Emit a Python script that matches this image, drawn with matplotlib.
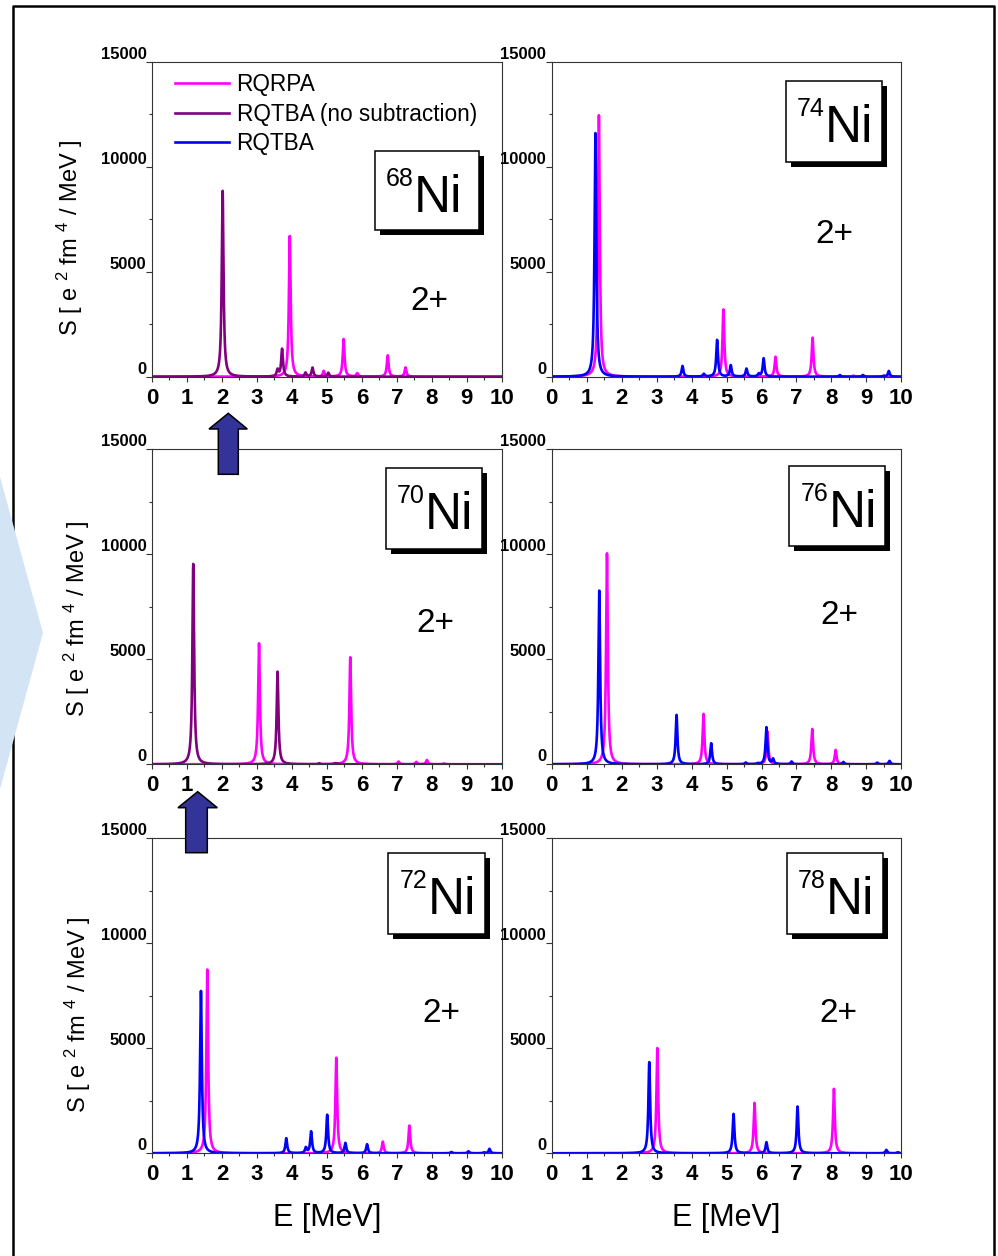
import numpy as np
import matplotlib
matplotlib.use('Agg')
import matplotlib.pyplot as plt
from matplotlib.patches import Rectangle, Polygon
from matplotlib.lines import Line2D
from matplotlib.ticker import MultipleLocator

plt.rcParams['font.family'] = ['Liberation Sans', 'DejaVu Sans']
plt.rcParams['mathtext.fontset'] = 'custom'
plt.rcParams['mathtext.rm'] = 'Liberation Sans'
plt.rcParams['mathtext.it'] = 'Liberation Sans:italic'
plt.rcParams['mathtext.bf'] = 'Liberation Sans:bold'

# ---------------- data (peak energies in MeV, peak strengths) ----------------
series_names = ['RQRPA', 'RQTBA (no subtraction)', 'RQTBA']
series_colors = ['#ff00ff', '#800080', '#0000ff']

ni68_rqrpa_E = [3.94, 4.91, 5.48, 5.87, 6.74, 7.25]
ni68_rqrpa_S = [6700, 270, 1790, 160, 1016, 440]
ni68_nosub_E = [2.02, 3.59, 3.72, 4.39, 4.59, 5.04]
ni68_nosub_S = [8850, 320, 1320, 190, 430, 190]

ni70_rqrpa_E = [3.06, 5.67, 7.05, 7.56, 7.86, 8.35]
ni70_rqrpa_S = [5760, 5095, 130, 110, 200, 40]
ni70_nosub_E = [1.18, 3.59, 4.78, 5.23, 5.30]
ni70_nosub_S = [9540, 4410, 50, 50, 40]

ni72_rqrpa_E = [1.58, 5.27, 6.60, 7.36]
ni72_rqrpa_S = [8750, 4550, 555, 1320]
ni72_rqtba_E = [1.40, 3.84, 4.40, 4.55, 5.01, 5.53, 6.15, 8.56, 9.05, 9.50, 9.65]
ni72_rqtba_S = [7730, 715, 255, 1030, 1830, 490, 430, 60, 95, 40, 210]

ni74_rqrpa_E = [1.35, 4.91, 6.40, 7.46, 8.63]
ni74_rqrpa_S = [12450, 3200, 950, 1860, 50]
ni74_rqtba_E = [1.25, 3.74, 4.35, 4.73, 5.12, 5.57, 5.92, 6.06, 8.24, 8.90, 9.50, 9.64]
ni74_rqtba_S = [11600, 510, 130, 1750, 540, 380, 130, 870, 80, 80, 40, 270]

ni76_rqrpa_E = [1.58, 4.34, 6.17, 7.45, 8.12]
ni76_rqrpa_S = [10045, 2400, 1555, 1680, 680]
ni76_rqtba_E = [1.36, 3.57, 4.56, 5.55, 5.90, 6.14, 6.33, 6.86, 8.34, 9.31, 9.66]
ni76_rqtba_S = [8270, 2350, 1000, 80, 40, 1760, 240, 130, 110, 80, 160]

ni78_rqrpa_E = [3.02, 5.80, 8.07]
ni78_rqrpa_S = [5010, 2400, 3070]
ni78_rqtba_E = [2.79, 5.20, 6.14, 7.03, 9.57, 9.90]
ni78_rqtba_S = [4340, 1876, 525, 2226, 160, 50]

mass_numbers = ['68', '74', '70', '76', '72', '78']   # panels, row-major
multipolarity = '2+'
x_ticks = list(range(0, 11))
y_ticks = [0, 5000, 10000, 15000]
smearing = 0.03  # MeV (Lorentzian half width)

panel_series = {
    '68': [(0, ni68_rqrpa_E, ni68_rqrpa_S), (1, ni68_nosub_E, ni68_nosub_S)],
    '70': [(0, ni70_rqrpa_E, ni70_rqrpa_S), (1, ni70_nosub_E, ni70_nosub_S)],
    '72': [(0, ni72_rqrpa_E, ni72_rqrpa_S), (2, ni72_rqtba_E, ni72_rqtba_S)],
    '74': [(0, ni74_rqrpa_E, ni74_rqrpa_S), (2, ni74_rqtba_E, ni74_rqtba_S)],
    '76': [(0, ni76_rqrpa_E, ni76_rqrpa_S), (2, ni76_rqtba_E, ni76_rqtba_S)],
    '78': [(0, ni78_rqrpa_E, ni78_rqrpa_S), (2, ni78_rqtba_E, ni78_rqtba_S)],
}

# ---------------- layout (pixels) ----------------
W, H = 998, 1256
fig = plt.figure(figsize=(W / 100, H / 100), dpi=100)
fig.patch.set_facecolor('white')


def fx(x):
    return x / W


def fy(y):
    return 1 - y / H


col_x = [152.0, 551.7]
row_top = [61.7, 449.3, 838.3]
aw, ah = 349.7, 315.0

boxes = {  # x0, y0, w, h of nucleus label box
    '68': (374.5, 150.5, 104.5, 79.0),
    '74': (785.7, 81.0, 96.3, 81.0),
    '70': (385.7, 468.0, 96.0, 81.0),
    '76': (789.0, 465.7, 95.7, 80.3),
    '72': (388.0, 853.3, 97.0, 80.7),
    '78': (786.7, 853.3, 96.3, 81.0),
}
mult_pos = {  # center x, baseline y
    '68': (429.5, 310.0), '74': (834.0, 243.0),
    '70': (435.0, 631.7), '76': (839.7, 624.0),
    '72': (441.7, 1021.7), '78': (838.0, 1021.7),
}
ylabel_pos = [(70, 238), (77, 619), (78, 1015)]

spine_col = '#333333'
axes_list = []
for i, A in enumerate(mass_numbers):
    r, c = divmod(i, 2)
    x0, top = col_x[c], row_top[r]
    ax = fig.add_axes([fx(x0), fy(top + ah), aw / W, ah / H])
    axes_list.append(ax)
    E = np.union1d(np.linspace(0, 10, 4001),
                   np.concatenate([np.asarray(s[1]) for s in panel_series[A]]))
    for k, pe, ps in panel_series[A]:
        pe = np.asarray(pe)[:, None]
        ps = np.asarray(ps, dtype=float)[:, None]
        curve = (ps * smearing ** 2 / ((E[None, :] - pe) ** 2 + smearing ** 2)).sum(axis=0)
        ax.plot(E, curve, color=series_colors[k], lw=1.9, solid_joinstyle='round')
    ax.set_xlim(0, 10)
    ax.set_ylim(0, 15000)
    ax.set_xticks(x_ticks)
    ax.set_yticks(y_ticks)
    ax.xaxis.set_minor_locator(MultipleLocator(0.5))
    ax.yaxis.set_minor_locator(MultipleLocator(2500))
    ax.tick_params(axis='both', which='both', direction='out', top=False, right=False,
                   color=spine_col, width=0.8)
    ax.tick_params(axis='x', which='major', length=3.8, pad=4, labelsize=16)
    ax.tick_params(axis='x', which='minor', length=2.3)
    ax.tick_params(axis='y', which='major', length=4.0, pad=0, labelsize=12)
    ax.tick_params(axis='y', which='minor', length=2.3)
    plt.setp(ax.get_xticklabels(), fontweight='bold')
    plt.setp(ax.get_yticklabels(), fontweight='bold', va='bottom')
    for sp in ax.spines.values():
        sp.set_color(spine_col)
        sp.set_linewidth(0.8)
    if c == 0:
        lx, ly = ylabel_pos[r]
        ax.set_ylabel('S [ e $^{2}$ fm $^{4}$ / MeV ]', fontsize=17, va='center')
        ax.yaxis.set_label_coords((lx - x0) / aw, (top + ah - ly) / ah)
    if r == 2:
        ax.set_xlabel('E [MeV]', fontsize=22, va='center')
        ax.xaxis.set_label_coords(0.5, (top + ah - 1218) / ah)

    # nucleus box with shadow
    bx, by, bw, bh = boxes[A]
    fig.add_artist(Rectangle((fx(bx + 5), fy(by + bh + 5)), bw / W, bh / H,
                             transform=fig.transFigure, facecolor='black',
                             edgecolor='none', zorder=4))
    fig.add_artist(Rectangle((fx(bx), fy(by + bh)), bw / W, bh / H,
                             transform=fig.transFigure, facecolor='white',
                             edgecolor='black', lw=1.1, zorder=4.5))
    fig.text(fx(bx + 11.5), fy(by + 16), A, fontsize=18, ha='left', va='top', zorder=5)
    fig.text(fx(bx + 39.5), fy(by + 61), 'Ni', fontsize=37, ha='left',
             va='baseline', zorder=5)
    mx, my = mult_pos[A]
    fig.text(fx(mx), fy(my), multipolarity, fontsize=24, ha='center', va='baseline')

# legend in the first panel
handles = [Line2D([], [], color=col, lw=1.9) for col in series_colors]
axes_list[0].legend(handles, series_names, loc='upper left',
                    bbox_to_anchor=((175 - 152) / aw, (376.7 - 73.0) / ah),
                    frameon=False, fontsize=16.3, handlelength=2.4,
                    handletextpad=0.32, labelspacing=0.29, borderpad=0,
                    borderaxespad=0)

# outer frame (open at the bottom)
fig.add_artist(Line2D([fx(13), fx(13), fx(994), fx(994)],
                      [fy(1270), fy(5.5), fy(5.5), fy(1270)],
                      transform=fig.transFigure, color='black', lw=1.8, zorder=1))
# light-blue background shape on the left
fig.add_artist(Polygon([(fx(-3), fy(466)), (fx(43), fy(633)), (fx(-3), fy(800))],
                       closed=True, transform=fig.transFigure, facecolor='#d3e4f4',
                       edgecolor='none', zorder=2))

# arrows between left panels
arrow_col = '#333399'
arrows = [
    dict(tip=(228.3, 413.3), head_y=429.0, head_x=(209.0, 247.3), shaft_x=(218.3, 238.3), bottom=474.3),
    dict(tip=(197.7, 791.7), head_y=807.7, head_x=(178.0, 217.3), shaft_x=(185.7, 207.3), bottom=852.7),
]
for a in arrows:
    pts = [a['tip'], (a['head_x'][1], a['head_y']), (a['shaft_x'][1], a['head_y']),
           (a['shaft_x'][1], a['bottom']), (a['shaft_x'][0], a['bottom']),
           (a['shaft_x'][0], a['head_y']), (a['head_x'][0], a['head_y'])]
    fig.add_artist(Polygon([(fx(x), fy(y)) for x, y in pts], closed=True,
                           transform=fig.transFigure, facecolor=arrow_col,
                           edgecolor='black', lw=1.1, zorder=6))

fig.savefig('out.png', dpi=100)
